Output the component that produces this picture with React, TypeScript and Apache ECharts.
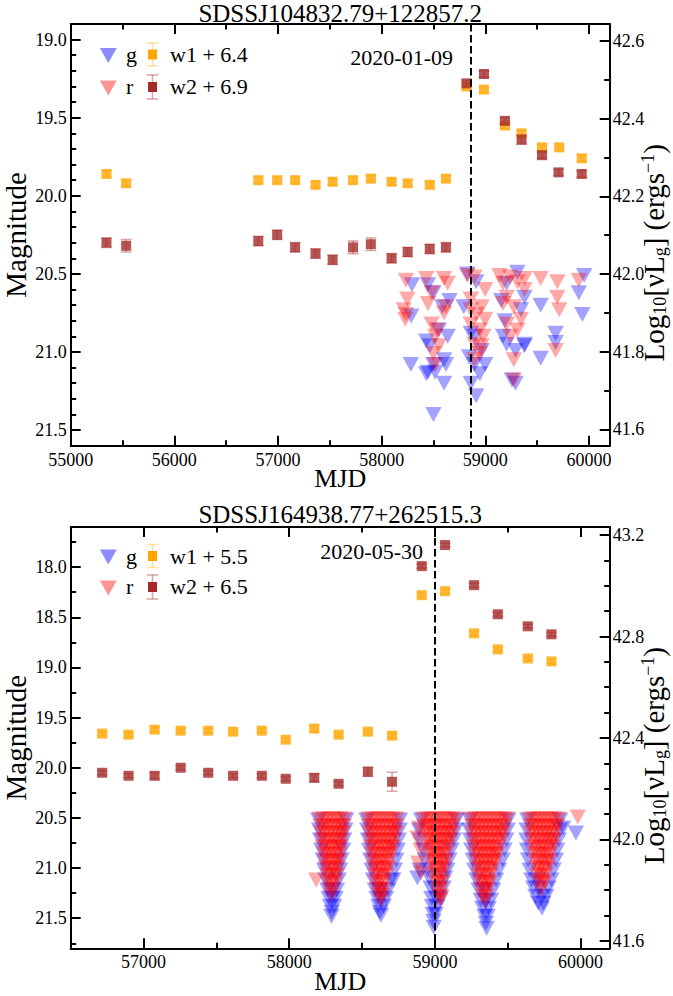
import React, { useEffect, useRef } from 'react';
import * as echarts from 'echarts';

const FONT = '"Liberation Serif", "Times New Roman", Times, serif';

// ---------- Panel 1 : SDSSJ104832.79+122857.2 ----------
const TOP_TITLE = 'SDSSJ104832.79+122857.2';
const TOP_DATE_LABEL = '2020-01-09';
const TOP_EVENT_MJD = 58857;
const TOP_W1_LABEL = 'w1 + 6.4';
const TOP_W2_LABEL = 'w2 + 6.9';
const TOP_X_RANGE = [55000, 60200];
const TOP_MAG_RANGE = [18.9, 21.6];
const TOP_LUM_RANGE = [41.558, 42.644];
const TOP_X_MAJOR = [55000, 56000, 57000, 58000, 59000, 60000];
const TOP_X_MINOR = [55500, 56500, 57500, 58500, 59500];
const TOP_MAG_MAJOR = [19.0, 19.5, 20.0, 20.5, 21.0, 21.5];
const TOP_MAG_MINOR = [19.1, 19.2, 19.3, 19.4, 19.6, 19.7, 19.8, 19.9, 20.1, 20.2, 20.3, 20.4, 20.6, 20.7, 20.8, 20.9, 21.1, 21.2, 21.3, 21.4];
const TOP_LUM_MAJOR = [41.6, 41.8, 42.0, 42.2, 42.4, 42.6];
const TOP_LUM_MINOR = [41.7, 41.9, 42.1, 42.3, 42.5];

// [MJD, mag, err]
const TOP_W1 = [
  [55345, 19.86, 0.02], [55535, 19.92, 0.02], [56810, 19.90, 0.02], [56992, 19.90, 0.02],
  [57165, 19.90, 0.02], [57362, 19.93, 0.02], [57527, 19.91, 0.02], [57724, 19.90, 0.02],
  [57896, 19.89, 0.02], [58096, 19.91, 0.02], [58251, 19.92, 0.02], [58464, 19.93, 0.02],
  [58620, 19.89, 0.02], [58819, 19.30, 0.02], [58987, 19.32, 0.02], [59189, 19.55, 0.02],
  [59350, 19.60, 0.02], [59547, 19.69, 0.02], [59713, 19.69, 0.02], [59930, 19.76, 0.02],
];
const TOP_W2 = [
  [55345, 20.30, 0.03], [55535, 20.32, 0.04], [56810, 20.29, 0.03], [56992, 20.25, 0.03],
  [57165, 20.33, 0.03], [57362, 20.37, 0.03], [57527, 20.41, 0.03], [57724, 20.33, 0.04],
  [57896, 20.31, 0.04], [58096, 20.40, 0.03], [58251, 20.36, 0.03], [58464, 20.34, 0.03],
  [58620, 20.33, 0.03], [58819, 19.28, 0.02], [58987, 19.22, 0.02], [59189, 19.52, 0.02],
  [59350, 19.64, 0.03], [59547, 19.74, 0.02], [59706, 19.85, 0.02], [59930, 19.86, 0.02],
];
// [MJD, mag]
const TOP_G = [
  [58292, 20.57], [58285, 20.77], [58282, 21.08],
  [58447, 20.57], [58499, 20.62], [58654, 20.67], [58585, 20.71], [58637, 20.90], [58430, 20.93],
  [58464, 20.96], [58602, 21.05], [58620, 21.08], [58447, 21.13], [58430, 21.14], [58516, 21.13],
  [58602, 21.20], [58499, 21.40], [58551, 20.86], [58499, 21.08],
  [58826, 20.50], [58912, 20.55], [58792, 20.71], [58895, 20.90], [58860, 20.88], [58843, 21.03],
  [58895, 21.08], [58947, 21.14], [58998, 21.08], [58860, 21.20], [58912, 21.28], [58964, 20.99],
  [59309, 20.49], [59206, 20.56], [59378, 20.65], [59154, 20.67], [59344, 20.73], [59188, 20.80],
  [59378, 20.95], [59206, 20.95], [59292, 20.99], [59292, 21.20], [59257, 21.18], [59171, 20.90],
  [59378, 20.96],
  [59534, 20.70], [59534, 21.04], [59678, 20.88], [59678, 20.94], [59902, 20.62], [59936, 20.76],
  [59954, 20.51],
];
const TOP_R = [
  [58234, 20.54], [58247, 20.66], [58213, 20.73], [58234, 20.76], [58228, 20.79],
  [58430, 20.53], [58602, 20.53], [58637, 20.56], [58482, 20.62], [58447, 20.69], [58620, 20.71],
  [58602, 20.75], [58482, 20.82], [58534, 20.86], [58516, 20.90], [58499, 21.01], [58516, 21.08],
  [58551, 20.96],
  [58826, 20.51], [58895, 20.52], [58998, 20.60], [58860, 20.66], [58964, 20.71], [58912, 20.76],
  [58998, 20.79], [58860, 20.82], [58947, 20.86], [58981, 20.90], [58895, 20.95], [58947, 21.01],
  [58895, 21.05], [58964, 20.96], [58860, 20.73],
  [59136, 20.51], [59240, 20.52], [59378, 20.53], [59171, 20.56], [59309, 20.55], [59206, 20.65],
  [59171, 20.69], [59275, 20.71], [59344, 20.79], [59206, 20.82], [59309, 20.86], [59240, 20.90],
  [59275, 21.05], [59275, 21.18], [59378, 20.60],
  [59534, 20.53], [59695, 20.55], [59695, 20.65], [59713, 20.73], [59678, 20.99], [59902, 20.54],
];

// ---------- Panel 2 : SDSSJ164938.77+262515.3 ----------
const BOT_TITLE = 'SDSSJ164938.77+262515.3';
const BOT_DATE_LABEL = '2020-05-30';
const BOT_EVENT_MJD = 58999;
const BOT_W1_LABEL = 'w1 + 5.5';
const BOT_W2_LABEL = 'w2 + 6.5';
const BOT_X_RANGE = [56500, 60200];
const BOT_MAG_RANGE = [17.6, 21.8];
const BOT_LUM_RANGE = [41.57, 43.232];
const BOT_X_MAJOR = [57000, 58000, 59000, 60000];
const BOT_X_MINOR = [57500, 58500, 59500];
const BOT_MAG_MAJOR = [18.0, 18.5, 19.0, 19.5, 20.0, 20.5, 21.0, 21.5];
const BOT_MAG_MINOR = [17.75, 18.25, 18.75, 19.25, 19.75, 20.25, 20.75, 21.25, 21.75];
const BOT_LUM_MAJOR = [41.6, 42.0, 42.4, 42.8, 43.2];
const BOT_LUM_MINOR = [41.7, 41.8, 41.9, 42.1, 42.2, 42.3, 42.5, 42.6, 42.7, 42.9, 43.0, 43.1];

const BOT_W1 = [
  [56716, 19.66, 0.02], [56897, 19.67, 0.02], [57076, 19.62, 0.02], [57255, 19.63, 0.02],
  [57444, 19.63, 0.02], [57615, 19.64, 0.02], [57812, 19.63, 0.02], [57976, 19.72, 0.02],
  [58172, 19.61, 0.03], [58339, 19.67, 0.02], [58540, 19.64, 0.02], [58706, 19.68, 0.02],
  [58910, 18.28, 0.02], [59070, 18.24, 0.02], [59269, 18.66, 0.02], [59432, 18.82, 0.02],
  [59638, 18.91, 0.02], [59800, 18.94, 0.02],
];
const BOT_W2 = [
  [56716, 20.05, 0.02], [56897, 20.08, 0.02], [57076, 20.08, 0.03], [57255, 20.00, 0.02],
  [57444, 20.05, 0.02], [57615, 20.08, 0.02], [57812, 20.08, 0.02], [57976, 20.11, 0.02],
  [58172, 20.10, 0.04], [58339, 20.16, 0.02], [58540, 20.04, 0.045], [58706, 20.14, 0.095],
  [58910, 17.99, 0.02], [59070, 17.78, 0.02], [59269, 18.18, 0.02], [59432, 18.47, 0.02],
  [59638, 18.59, 0.02], [59800, 18.67, 0.02],
];

// ZTF detections, listed per magnitude row: [mag, [MJD, ...]]
const BOT_R_ROWS: [number, number[]][] = [
  // season 2018
  [20.51, [58210, 58238, 58266, 58294, 58322, 58350, 58378]],
  [20.58, [58214, 58242, 58270, 58298, 58326, 58354, 58376]],
  [20.65, [58218, 58246, 58274, 58302, 58330, 58358, 58372]],
  [20.72, [58224, 58252, 58280, 58308, 58336, 58362]],
  [20.79, [58230, 58258, 58286, 58314, 58342, 58356]],
  [20.86, [58236, 58264, 58292, 58320, 58348]],
  [20.93, [58243, 58271, 58299, 58327, 58342]],
  [21.00, [58250, 58278, 58306, 58334]],
  [21.07, [58257, 58285, 58313, 58328]],
  [21.12, [58185]],
  [21.14, [58264, 58292, 58318]],
  [21.21, [58275, 58303]],
  [21.27, [58290]],
  // season 2019
  [20.51, [58542, 58570, 58598, 58626, 58654, 58682, 58710, 58738]],
  [20.58, [58546, 58574, 58602, 58630, 58658, 58686, 58714, 58736]],
  [20.65, [58550, 58578, 58606, 58634, 58662, 58690, 58718, 58730]],
  [20.72, [58555, 58583, 58611, 58639, 58667, 58695, 58720]],
  [20.79, [58561, 58589, 58617, 58645, 58673, 58701, 58712]],
  [20.86, [58567, 58595, 58623, 58651, 58679, 58700]],
  [20.93, [58573, 58601, 58629, 58657, 58685]],
  [21.00, [58580, 58608, 58636, 58664, 58680]],
  [21.07, [58587, 58615, 58643, 58668]],
  [21.14, [58594, 58622, 58650]],
  [21.21, [58603, 58631, 58650]],
  [21.27, [58615, 58640]],
  [21.32, [58628]],
  // season 2020
  [20.51, [58920, 58948, 58976, 59004, 59032, 59060, 59088, 59116, 59140]],
  [20.58, [58928, 58956, 58984, 59012, 59040, 59068, 59096, 59124]],
  [20.60, [58895]],
  [20.65, [58936, 58964, 58992, 59020, 59048, 59076, 59104, 59120]],
  [20.70, [58880]],
  [20.72, [58945, 58973, 59001, 59029, 59057, 59085, 59105]],
  [20.79, [58955, 58983, 59011, 59039, 59067, 59092]],
  [20.82, [58900]],
  [20.86, [58965, 58993, 59021, 59049, 59077]],
  [20.93, [58975, 59003, 59031, 59059, 59075]],
  [20.95, [58885]],
  [21.00, [58985, 59013, 59041, 59065]],
  [21.05, [58905]],
  [21.07, [58995, 59023, 59051]],
  [21.14, [59005, 59033, 59055]],
  [21.21, [59015, 59043]],
  [21.28, [59030, 59045]],
  [21.32, [59037]],
  // season 2021
  [20.51, [59250, 59278, 59306, 59334, 59362, 59390, 59418, 59446, 59474, 59495]],
  [20.58, [59254, 59282, 59310, 59338, 59366, 59394, 59422, 59450, 59478]],
  [20.65, [59258, 59286, 59314, 59342, 59370, 59398, 59426, 59454, 59470]],
  [20.72, [59264, 59292, 59320, 59348, 59376, 59404, 59432, 59458]],
  [20.79, [59270, 59298, 59326, 59354, 59382, 59410, 59438]],
  [20.86, [59277, 59305, 59333, 59361, 59389, 59417, 59428]],
  [20.93, [59284, 59312, 59340, 59368, 59396, 59415]],
  [21.00, [59291, 59319, 59347, 59375, 59400]],
  [21.07, [59299, 59327, 59355, 59383]],
  [21.14, [59307, 59335, 59363, 59378]],
  [21.21, [59317, 59345, 59365]],
  [21.28, [59330, 59352]],
  [21.33, [59345]],
  // season 2022
  [20.49, [59981]],
  [20.51, [59650, 59678, 59706, 59734, 59762, 59790, 59818, 59846]],
  [20.58, [59655, 59683, 59711, 59739, 59767, 59795, 59823, 59840]],
  [20.65, [59660, 59688, 59716, 59744, 59772, 59800, 59828]],
  [20.72, [59666, 59694, 59722, 59750, 59778, 59806, 59820]],
  [20.79, [59672, 59700, 59728, 59756, 59784, 59808]],
  [20.86, [59679, 59707, 59735, 59763, 59791]],
  [20.93, [59686, 59714, 59742, 59770, 59790]],
  [21.00, [59694, 59722, 59750, 59775]],
  [21.07, [59702, 59730, 59758]],
  [21.14, [59712, 59740, 59755]],
  [21.22, [59728]],
];
const BOT_G_ROWS: [number, number[]][] = [
  // season 2018
  [20.52, [58200, 58390]], [20.62, [58205, 58385]], [20.72, [58212, 58378]], [20.82, [58220, 58370]],
  [20.92, [58230, 58360]], [21.02, [58240, 58350]], [21.12, [58250, 58340]],
  [21.22, [58262, 58298, 58328]], [21.30, [58270, 58295, 58318]], [21.38, [58280, 58308]],
  [21.44, [58292]], [21.48, [58290]],
  // season 2019
  [20.52, [58530, 58760]], [20.62, [58535, 58758]], [20.72, [58540, 58752]], [20.82, [58548, 58745]],
  [20.92, [58556, 58735]], [21.02, [58565, 58725]], [21.12, [58575, 58700, 58715]],
  [21.22, [58588, 58625, 58680]], [21.30, [58600, 58630, 58665]], [21.38, [58612, 58648]],
  [21.44, [58622]], [21.47, [58630]],
  // season 2020
  [20.52, [58905, 59150]], [20.62, [58890, 59145]], [20.72, [58895, 59130]], [20.82, [58920, 59115]],
  [20.92, [58930, 59100]], [21.02, [58895, 58950, 59085]], [21.10, [58880, 58960, 59070]],
  [21.20, [58970, 59000, 59060]], [21.30, [58975, 59010, 59040]], [21.38, [58980, 59020]],
  [21.46, [58985, 59005]], [21.53, [58990]], [21.59, [58992]],
  // season 2021
  [20.52, [59240, 59505]], [20.62, [59235, 59500]], [20.72, [59242, 59490]], [20.82, [59250, 59478]],
  [20.92, [59260, 59465]], [21.02, [59270, 59440]], [21.12, [59285, 59420]],
  [21.22, [59300, 59340, 59400]], [21.32, [59315, 59350, 59385]], [21.40, [59325, 59370]],
  [21.48, [59340, 59362]], [21.55, [59350]], [21.60, [59355]],
  // season 2022
  [20.52, [59635, 59860]], [20.60, [59880]], [20.62, [59630, 59858]], [20.65, [59968]],
  [20.72, [59628, 59850]], [20.82, [59632, 59840]], [20.92, [59640, 59830]], [21.02, [59650, 59815]],
  [21.12, [59662, 59700, 59800]], [21.20, [59675, 59715, 59780]], [21.28, [59690, 59735, 59765]],
  [21.35, [59710, 59745]], [21.40, [59735]],
];
const rowsToPoints = (rows: [number, number[]][]) =>
  rows.flatMap(([mag, mjds]) => mjds.map((m) => [m, mag]));
const BOT_G = rowsToPoints(BOT_G_ROWS);
const BOT_R = rowsToPoints(BOT_R_ROWS);

const G_COLOR = 'rgba(0,0,255,0.45)';
const R_COLOR = 'rgba(255,0,0,0.42)';
const W1_COLOR = '#FFA500';
const W2_COLOR = '#A52A2A';
const W1_ERR = 'rgba(255,165,0,0.35)';
const W2_ERR = 'rgba(165,42,42,0.4)';

type PanelCfg = {
  grid: { left: number; top: number; width: number; height: number };
  xRange: number[]; magRange: number[]; lumRange: number[];
  xMajor: number[]; xMinor: number[]; magMajor: number[]; magMinor: number[];
  lumMajor: number[]; lumMinor: number[];
  w1: number[][]; w2: number[][]; g: number[][]; r: number[][];
  eventMjd: number;
};

const PANELS: PanelCfg[] = [
  {
    grid: { left: 70.7, top: 24, width: 539, height: 421.7 },
    xRange: TOP_X_RANGE, magRange: TOP_MAG_RANGE, lumRange: TOP_LUM_RANGE,
    xMajor: TOP_X_MAJOR, xMinor: TOP_X_MINOR, magMajor: TOP_MAG_MAJOR, magMinor: TOP_MAG_MINOR,
    lumMajor: TOP_LUM_MAJOR, lumMinor: TOP_LUM_MINOR,
    w1: TOP_W1, w2: TOP_W2, g: TOP_G, r: TOP_R, eventMjd: TOP_EVENT_MJD,
  },
  {
    grid: { left: 70.7, top: 527, width: 539, height: 421.3 },
    xRange: BOT_X_RANGE, magRange: BOT_MAG_RANGE, lumRange: BOT_LUM_RANGE,
    xMajor: BOT_X_MAJOR, xMinor: BOT_X_MINOR, magMajor: BOT_MAG_MAJOR, magMinor: BOT_MAG_MINOR,
    lumMajor: BOT_LUM_MAJOR, lumMinor: BOT_LUM_MINOR,
    w1: BOT_W1, w2: BOT_W2, g: BOT_G, r: BOT_R, eventMjd: BOT_EVENT_MJD,
  },
];

const MAJOR_LEN = 10;
const MINOR_LEN = 5.5;

function makeAxis(o: {
  gridIndex: number; position: string; range: number[]; inverse?: boolean;
  ticks: number[]; tickLen: number; line: boolean; labels?: boolean;
  fmt?: (v: number) => string; labelMargin?: number;
  name?: string; nameGap?: number; nameRotate?: number; nameSize?: number;
  nameRich?: any; namePadding?: number[];
}) {
  const ax: any = {
    type: 'value',
    gridIndex: o.gridIndex,
    position: o.position,
    min: o.range[0],
    max: o.range[1],
    inverse: !!o.inverse,
    scale: true,
    splitLine: { show: false },
    splitArea: { show: false },
    minorTick: { show: false },
    axisLine: { show: o.line, onZero: false, lineStyle: { color: '#000', width: 2 } },
    axisTick: {
      show: true, inside: true, length: o.tickLen, customValues: o.ticks,
      lineStyle: { color: '#000', width: 2 },
    },
    axisLabel: o.labels
      ? {
          show: true, customValues: o.ticks, formatter: o.fmt, margin: o.labelMargin ?? 5,
          color: '#000', fontFamily: FONT, fontSize: 18,
          showMinLabel: true, showMaxLabel: true, hideOverlap: false,
        }
      : { show: false },
    silent: true,
    nameMoveOverlap: false,
  };
  if (o.name) {
    ax.name = o.name;
    ax.nameLocation = 'middle';
    ax.nameGap = o.nameGap;
    if (o.nameRotate !== undefined) ax.nameRotate = o.nameRotate;
    ax.nameTextStyle = {
      color: '#000', fontFamily: FONT, fontSize: o.nameSize ?? 25, rich: o.nameRich,
      padding: o.namePadding ?? 0,
    };
  }
  return ax;
}

function errorBarSeries(data: number[][], color: string, xi: number, yi: number) {
  return {
    type: 'custom',
    xAxisIndex: xi,
    yAxisIndex: yi,
    silent: true,
    z: 3,
    clip: true,
    encode: { x: 0, y: 1 },
    data,
    renderItem: (_p: any, api: any) => {
      const x = api.value(0), y = api.value(1), e = api.value(2);
      const a = api.coord([x, y - e]);
      const b = api.coord([x, y + e]);
      const hw = 5.5;
      const st = { stroke: color, lineWidth: 1.6 };
      return {
        type: 'group',
        children: [
          { type: 'line', shape: { x1: a[0], y1: a[1], x2: b[0], y2: b[1] }, style: st },
          { type: 'line', shape: { x1: a[0] - hw, y1: a[1], x2: a[0] + hw, y2: a[1] }, style: st },
          { type: 'line', shape: { x1: b[0] - hw, y1: b[1], x2: b[0] + hw, y2: b[1] }, style: st },
        ],
      };
    },
  };
}

const fmt1 = (v: number) => v.toFixed(1);
const fmt0 = (v: number) => String(Math.round(v));

const LUM_NAME = '{t|Log}{s|10}{t|[νL}{s|g}{t|] (ergs}{u|−1}{t|)}';
const LUM_RICH = {
  t: { fontFamily: FONT, fontSize: 29, lineHeight: 30, color: '#000', verticalAlign: 'middle' },
  s: { fontFamily: FONT, fontSize: 18, lineHeight: 16, color: '#000', verticalAlign: 'bottom' },
  u: { fontFamily: FONT, fontSize: 18, lineHeight: 16, color: '#000', verticalAlign: 'top' },
};

function legendGraphics(T: number, w1: string, w2: string, rowA: number, rowB: number) {
  const txt = (x: number, y: number, text: string) => ({
    type: 'text', x, y, silent: true,
    style: { text, fill: '#000', fontFamily: FONT, fontSize: 22, align: 'left', verticalAlign: 'middle' },
  });
  const tri = (cy: number, fill: string) => ({
    type: 'polygon', silent: true,
    shape: { points: [[99.8, cy - 7.5], [116.8, cy - 7.5], [108.3, cy + 7.5]] },
    style: { fill },
  });
  const ebar = (cy: number, color: string, errColor: string, h: number) => ({
    type: 'group', silent: true,
    children: [
      { type: 'line', shape: { x1: 152.5, y1: cy - h, x2: 152.5, y2: cy + h }, style: { stroke: errColor, lineWidth: 1.6 } },
      { type: 'line', shape: { x1: 146.7, y1: cy - h, x2: 158.3, y2: cy - h }, style: { stroke: errColor, lineWidth: 1.6 } },
      { type: 'line', shape: { x1: 146.7, y1: cy + h, x2: 158.3, y2: cy + h }, style: { stroke: errColor, lineWidth: 1.6 } },
      { type: 'rect', shape: { x: 148, y: cy - 5, width: 9, height: 10 }, style: { fill: color } },
    ],
  });
  const a = T + rowA, b = T + rowB;
  return [
    tri(a, G_COLOR), txt(126, a - 1, 'g'), ebar(a - 1, W1_COLOR, W1_ERR, 11.5), txt(170, a - 1, w1),
    tri(b, R_COLOR), txt(126, b - 2, 'r'), ebar(b - 1, W2_COLOR, W2_ERR, 12), txt(170, b - 2, w2),
  ];
}

function buildOption() {
  const grid: any[] = [];
  const xAxis: any[] = [];
  const yAxis: any[] = [];
  const series: any[] = [];

  PANELS.forEach((p, i) => {
    grid.push({ ...p.grid, containLabel: false, outerBoundsMode: 'none', show: false });
    const xi = xAxis.length;
    const yi = yAxis.length;
    xAxis.push(makeAxis({ gridIndex: i, position: 'bottom', range: p.xRange, ticks: p.xMajor, tickLen: MAJOR_LEN, line: true, labels: true, fmt: fmt0, labelMargin: 5, name: 'MJD', nameGap: 20, nameSize: 26 }));
    xAxis.push(makeAxis({ gridIndex: i, position: 'bottom', range: p.xRange, ticks: p.xMinor, tickLen: MINOR_LEN, line: false }));
    xAxis.push(makeAxis({ gridIndex: i, position: 'top', range: p.xRange, ticks: p.xMajor, tickLen: MAJOR_LEN, line: true }));
    xAxis.push(makeAxis({ gridIndex: i, position: 'top', range: p.xRange, ticks: p.xMinor, tickLen: MINOR_LEN, line: false }));

    yAxis.push(makeAxis({ gridIndex: i, position: 'left', range: p.magRange, inverse: true, ticks: p.magMajor, tickLen: MAJOR_LEN, line: true, labels: true, fmt: fmt1, labelMargin: 4, name: 'Magnitude', nameGap: 40, nameRotate: 90, nameSize: 29 }));
    yAxis.push(makeAxis({ gridIndex: i, position: 'left', range: p.magRange, inverse: true, ticks: p.magMinor, tickLen: MINOR_LEN, line: false }));
    yAxis.push(makeAxis({ gridIndex: i, position: 'right', range: p.lumRange, ticks: p.lumMajor, tickLen: MAJOR_LEN, line: true, labels: true, fmt: fmt1, labelMargin: 3, name: LUM_NAME, nameGap: 29, nameRotate: 90, nameSize: 29, nameRich: LUM_RICH, namePadding: [0, 36, 0, 0] }));
    yAxis.push(makeAxis({ gridIndex: i, position: 'right', range: p.lumRange, ticks: p.lumMinor, tickLen: MINOR_LEN, line: false }));

    series.push({
      type: 'scatter', name: 'g', xAxisIndex: xi, yAxisIndex: yi, data: p.g,
      symbol: 'triangle', symbolRotate: 180, symbolSize: [16.5, 15],
      itemStyle: { color: G_COLOR }, silent: true, z: 2,
      markLine: {
        silent: true, symbol: 'none', label: { show: false },
        lineStyle: { color: '#000', width: 2, type: [7.5, 3.5] },
        data: [{ xAxis: p.eventMjd }],
        z: 6,
      },
    });
    series.push({
      type: 'scatter', name: 'r', xAxisIndex: xi, yAxisIndex: yi, data: p.r,
      symbol: 'triangle', symbolRotate: 180, symbolSize: [16.5, 15],
      itemStyle: { color: R_COLOR }, silent: true, z: 2,
    });
    series.push(errorBarSeries(p.w1, W1_ERR, xi, yi));
    series.push(errorBarSeries(p.w2, W2_ERR, xi, yi));
    series.push({
      type: 'scatter', name: 'w1', xAxisIndex: xi, yAxisIndex: yi,
      data: p.w1.map((d) => [d[0], d[1]]),
      symbol: 'rect', symbolSize: 10, itemStyle: { color: W1_COLOR }, silent: true, z: 4,
    });
    series.push({
      type: 'scatter', name: 'w2', xAxisIndex: xi, yAxisIndex: yi,
      data: p.w2.map((d) => [d[0], d[1]]),
      symbol: 'rect', symbolSize: 10, itemStyle: { color: W2_COLOR }, silent: true, z: 4,
    });
  });

  const title = (x: number, y: number, text: string) => ({
    type: 'text', x, y, silent: true,
    style: { text, fill: '#000', fontFamily: FONT, fontSize: 25, align: 'center', verticalAlign: 'middle' },
  });
  const dateLabel = (x: number, y: number, text: string) => ({
    type: 'text', x, y, silent: true,
    style: { text, fill: '#000', fontFamily: FONT, fontSize: 22, align: 'right', verticalAlign: 'middle' },
  });

  const graphic = [
    title(340.2, 13, TOP_TITLE),
    title(340.2, 514, BOT_TITLE),
    dateLabel(453, 57, TOP_DATE_LABEL),
    dateLabel(423, 551.5, BOT_DATE_LABEL),
    ...legendGraphics(24, TOP_W1_LABEL, TOP_W2_LABEL, 31.5, 64),
    ...legendGraphics(527, BOT_W1_LABEL, BOT_W2_LABEL, 30, 61),
  ];

  return {
    animation: false,
    backgroundColor: '#ffffff',
    textStyle: { fontFamily: FONT },
    grid,
    xAxis,
    yAxis,
    series,
    graphic,
  };
}

export default function App() {
  const ref = useRef<HTMLDivElement>(null);
  useEffect(() => {
    if (!ref.current) return;
    const chart = echarts.init(ref.current, undefined, { renderer: 'svg' });
    chart.setOption(buildOption() as any);
    return () => chart.dispose();
  }, []);
  return (
    <div
      ref={ref}
      style={{ position: 'absolute', left: 0, top: 0, width: 673, height: 996, background: '#fff' }}
    />
  );
}
